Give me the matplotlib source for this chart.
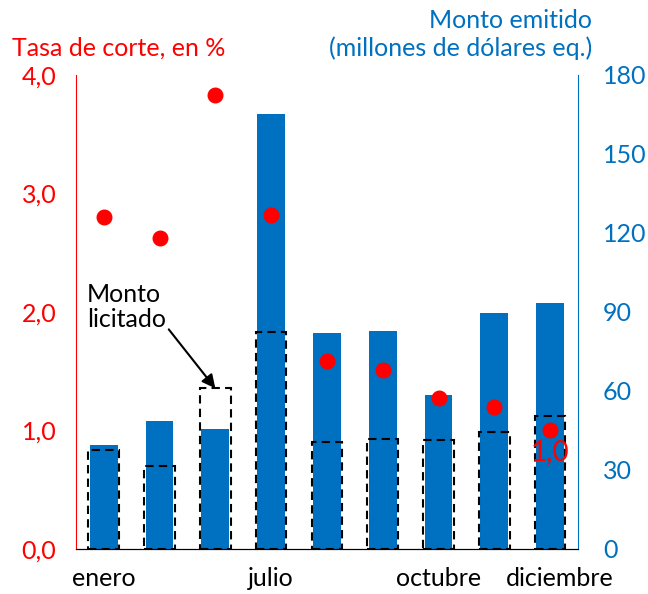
import numpy as np
import matplotlib.pyplot as plt

plt.rcParams['font.family'] = ['Lato', 'DejaVu Sans']

# datos
meses = ['enero', '', '', 'julio', '', '', 'octubre', '', 'diciembre']
monto_emitido = [39.5, 48.6, 45.6, 165.2, 82.0, 82.8, 58.5, 89.6, 93.4]
monto_licitado = [37.6, 31.6, 61.0, 82.4, 40.6, 41.8, 41.4, 44.4, 50.5]
tasa_corte = [2.80, 2.62, 3.83, 2.82, 1.59, 1.51, 1.27, 1.20, 1.00]

azul = '#0070C0'
rojo = '#FF0000'
fs = 18

fig = plt.figure(figsize=(6.48, 5.94), dpi=100)
ax = fig.add_axes([0.117, 0.0758, 0.775, 0.798])
ax2 = ax.twinx()

x = np.arange(len(meses))

# barras en eje derecho
ax2.bar(x, monto_emitido, width=0.5, color=azul, zorder=1)
ax2.bar(x, monto_licitado, width=0.55, facecolor='none', edgecolor='black',
        linestyle=(0, (4, 2.5)), linewidth=1.5, zorder=2)
ax2.set_ylim(0, 180)
ax2.set_yticks(np.arange(0, 181, 30))
ax2.set_yticklabels([str(v) for v in range(0, 181, 30)])

# puntos en eje izquierdo, por encima de las barras
ax.set_zorder(ax2.get_zorder() + 1)
ax.patch.set_visible(False)
ax.scatter(x, tasa_corte, s=110, color=rojo, zorder=3)
ax.text(x[-1], tasa_corte[-1] - 0.18, '1,0', color=rojo, fontsize=20,
        ha='center', va='center')
ax.set_ylim(0, 4)
ax.set_yticks(np.arange(0, 4.01, 1))
ax.set_yticklabels(['0,0', '1,0', '2,0', '3,0', '4,0'])
ax.set_xlim(-0.5, 8.5)

# etiquetas del eje x
ax.set_xticks([0, 3, 6, 8.18])
ax.set_xticklabels(['enero', 'julio', 'octubre', 'diciembre'])

for a in (ax, ax2):
    a.spines['top'].set_visible(False)
    a.tick_params(length=0)
ax.spines['left'].set_color(rojo)
ax.spines['right'].set_visible(False)
ax2.spines['left'].set_visible(False)
ax2.spines['right'].set_color(azul)
ax2.spines['bottom'].set_color('black')
ax.tick_params(axis='y', colors=rojo, labelsize=fs, pad=14)
ax2.tick_params(axis='y', colors=azul, labelsize=fs, pad=18)
ax.tick_params(axis='x', labelsize=fs, pad=13)

# titulos de ejes
fig.text(0.018, 0.919, 'Tasa de corte, en %', color=rojo, fontsize=fs,
         ha='left', va='center')
fig.text(0.914, 0.966, 'Monto emitido', color=azul, fontsize=fs,
         ha='right', va='center')
fig.text(0.914, 0.919, '(millones de dólares eq.)', color=azul, fontsize=fs,
         ha='right', va='center')

# anotacion
ax2.annotate('Monto\nlicitado', xy=(2, 61), xytext=(-0.3, 92),
             fontsize=fs, ha='left', va='center', linespacing=1.1,
             arrowprops=dict(arrowstyle='-|>', color='black', lw=1.5,
                             mutation_scale=20, shrinkA=0, shrinkB=0,
                             relpos=(1.0, 0.1)))

fig.savefig('out.png', dpi=100)
